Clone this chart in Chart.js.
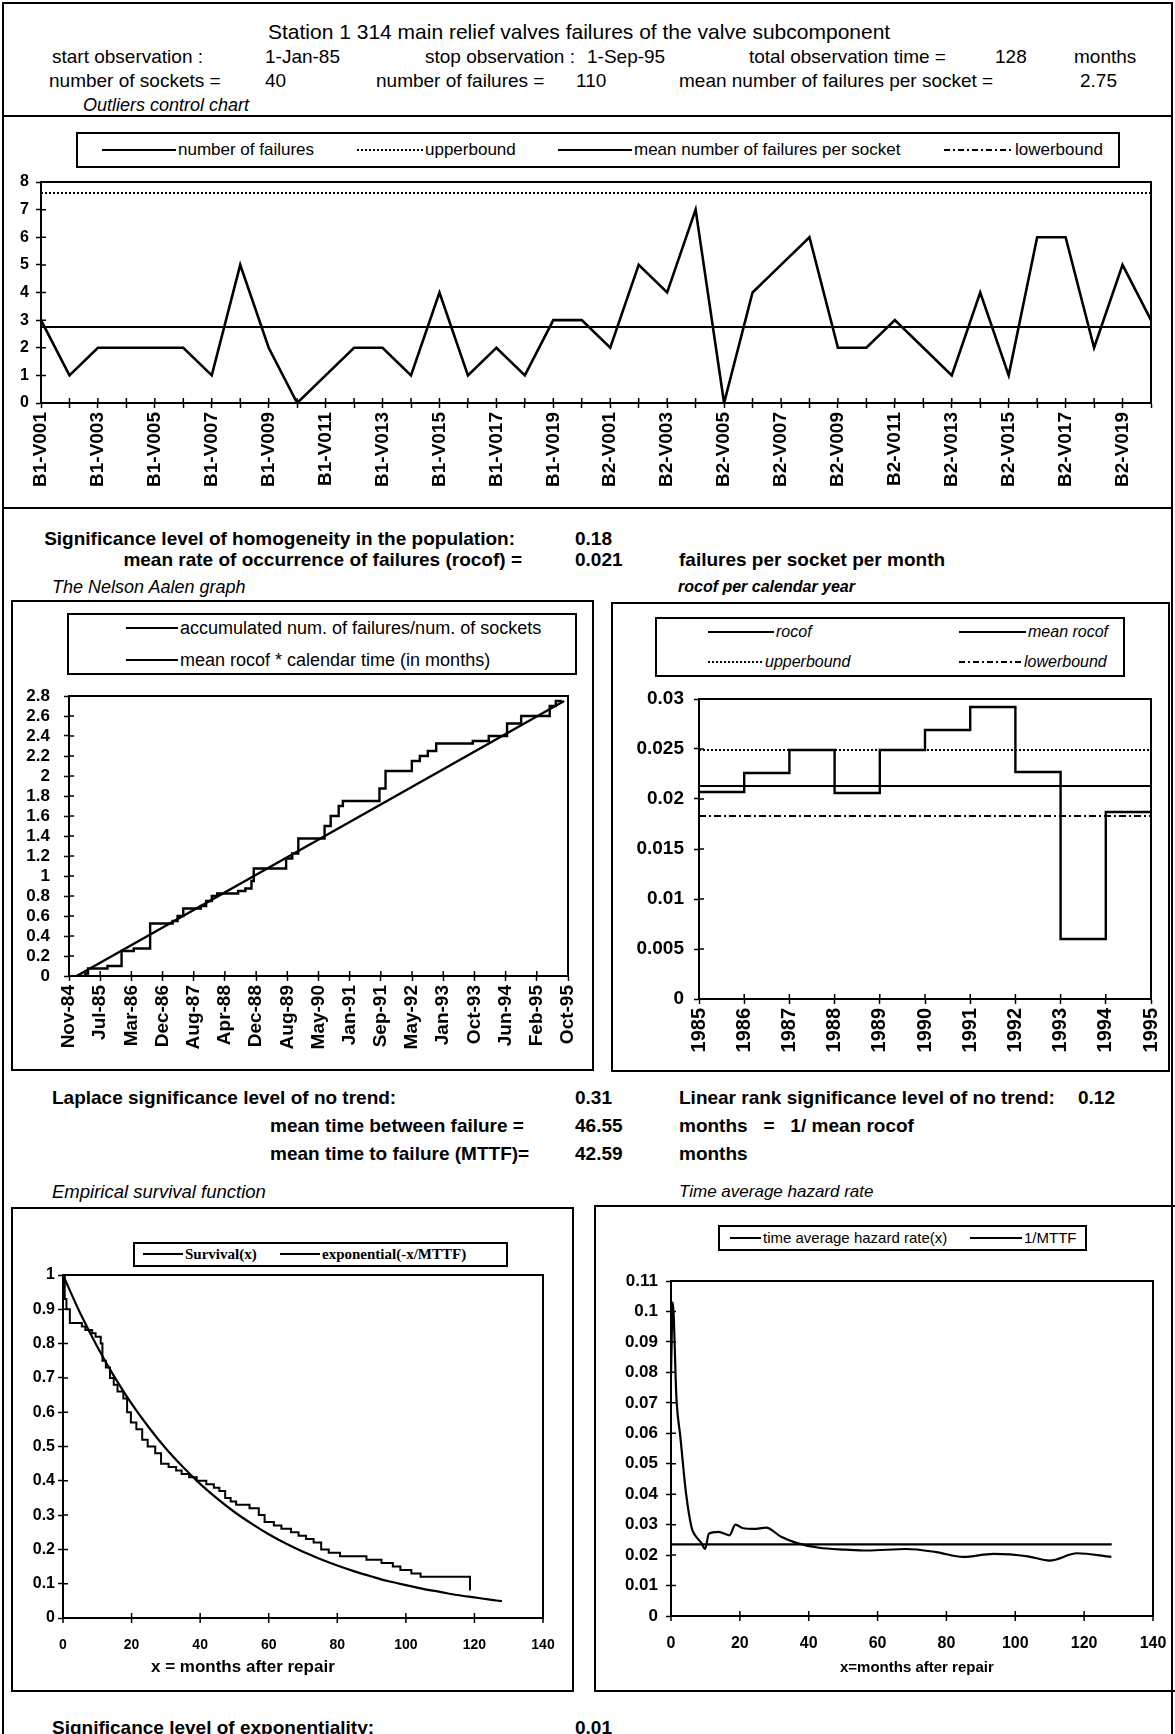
<!DOCTYPE html>
<html>
<head>
<meta charset="utf-8">
<title>Station 1 314 main relief valves</title>
<script src="https://cdn.jsdelivr.net/npm/chart.js@4.4.1/dist/chart.umd.min.js"></script>
<style>
  body { margin: 0; background: #fff; }
  #page { position: relative; width: 1175px; height: 1734px; overflow: hidden; font-family: "Liberation Sans", Arial, sans-serif; color: #000; }
  .t { position: absolute; white-space: nowrap; line-height: 20px; height: 20px; }
  .hd { font-size: 19px; }
  .sec { font-size: 19px; font-weight: bold; }
  .cap { font-style: italic; font-size: 18px; }
  .frame { position: absolute; border: 2px solid #000; box-sizing: border-box; }
  .hl { position: absolute; height: 2px; background: #000; }
  canvas { position: absolute; }
  .lg { position: absolute; border: 2px solid #000; box-sizing: border-box; background: #fff; }
  .li { position: absolute; white-space: nowrap; height: 20px; line-height: 20px; display: flex; align-items: center; }
  .li svg { margin-right: 2px; }
</style>
</head>
<body>
<div id="page">
  <div class="frame" style="left:2px;top:2px;width:1171px;height:1800px"></div>
  <div class="hl" style="left:2px;top:115px;width:1171px"></div>
  <div class="hl" style="left:2px;top:507px;width:1171px"></div>

  <div class="t hd" style="left:268px;top:22px;font-size:21px">Station 1 314 main relief valves failures of the valve subcomponent</div>
  <div class="t hd" style="left:52px;top:47px">start observation :</div>
  <div class="t hd" style="left:265px;top:47px">1-Jan-85</div>
  <div class="t hd" style="left:425px;top:47px">stop observation :</div>
  <div class="t hd" style="left:587px;top:47px">1-Sep-95</div>
  <div class="t hd" style="left:749px;top:47px">total observation time =</div>
  <div class="t hd" style="left:995px;top:47px">128</div>
  <div class="t hd" style="left:1074px;top:47px">months</div>
  <div class="t hd" style="left:49px;top:71px">number of sockets =</div>
  <div class="t hd" style="left:265px;top:71px">40</div>
  <div class="t hd" style="left:376px;top:71px">number of failures =</div>
  <div class="t hd" style="left:576px;top:71px">110</div>
  <div class="t hd" style="left:679px;top:71px">mean number of failures per socket =</div>
  <div class="t hd" style="left:1080px;top:71px">2.75</div>
  <div class="t cap" style="left:83px;top:95px">Outliers control chart</div>

  <div class="lg" style="left:76px;top:132px;width:1044px;height:36px"></div>
  <div class="li" style="left:102px;top:140px;font-size:17px"><svg width="74" height="4"><line x1="0" y1="2" x2="74" y2="2" stroke="#000" stroke-width="2"/></svg><span>number of failures</span></div>
  <div class="li" style="left:357px;top:140px;font-size:17px"><svg width="66" height="4"><line x1="0" y1="2" x2="66" y2="2" stroke="#000" stroke-width="2" stroke-dasharray="2 2"/></svg><span>upperbound</span></div>
  <div class="li" style="left:558px;top:140px;font-size:17px"><svg width="74" height="4"><line x1="0" y1="2" x2="74" y2="2" stroke="#000" stroke-width="2"/></svg><span>mean number of failures per socket</span></div>
  <div class="li" style="left:944px;top:140px;font-size:17px"><svg width="69" height="4"><line x1="0" y1="2" x2="69" y2="2" stroke="#000" stroke-width="2" stroke-dasharray="6 3 2 3"/></svg><span>lowerbound</span></div>
  <canvas id="c1" width="1162" height="332" style="left:6px;top:172px"></canvas>

  <div class="t sec" style="right:660px;top:529px">Significance level of homogeneity in the population:</div>
  <div class="t sec" style="left:575px;top:529px">0.18</div>
  <div class="t sec" style="right:653px;top:550px">mean rate of occurrence of failures (rocof) =</div>
  <div class="t sec" style="left:575px;top:550px">0.021</div>
  <div class="t sec" style="left:679px;top:550px">failures per socket per month</div>
  <div class="t cap" style="left:52px;top:577px">The Nelson Aalen graph</div>
  <div class="t cap" style="left:678px;top:577px;font-size:16px;font-weight:bold">rocof per calendar year</div>

  <div class="frame" style="left:11px;top:600px;width:583px;height:471px"></div>
  <div class="lg" style="left:67px;top:613px;width:510px;height:62px"></div>
  <div class="li" style="left:126px;top:618px;font-size:18px"><svg width="52" height="4"><line x1="0" y1="2" x2="52" y2="2" stroke="#000" stroke-width="2"/></svg><span>accumulated num. of failures/num. of sockets</span></div>
  <div class="li" style="left:126px;top:650px;font-size:18px"><svg width="52" height="4"><line x1="0" y1="2" x2="52" y2="2" stroke="#000" stroke-width="2"/></svg><span>mean rocof * calendar time (in months)</span></div>
  <canvas id="c2" width="576" height="378" style="left:14px;top:686px"></canvas>

  <div class="frame" style="left:611px;top:602px;width:559px;height:470px"></div>
  <div class="lg" style="left:655px;top:617px;width:470px;height:60px"></div>
  <div class="li" style="left:708px;top:622px;font-size:16px;font-style:italic"><svg width="66" height="4"><line x1="0" y1="2" x2="66" y2="2" stroke="#000" stroke-width="2"/></svg><span>rocof</span></div>
  <div class="li" style="left:959px;top:622px;font-size:16px;font-style:italic"><svg width="67" height="4"><line x1="0" y1="2" x2="67" y2="2" stroke="#000" stroke-width="2"/></svg><span>mean rocof</span></div>
  <div class="li" style="left:708px;top:652px;font-size:16px;font-style:italic"><svg width="55" height="4"><line x1="0" y1="2" x2="55" y2="2" stroke="#000" stroke-width="2" stroke-dasharray="2 2"/></svg><span>upperbound</span></div>
  <div class="li" style="left:959px;top:652px;font-size:16px;font-style:italic"><svg width="63" height="4"><line x1="0" y1="2" x2="63" y2="2" stroke="#000" stroke-width="2" stroke-dasharray="6 3 2 3"/></svg><span>lowerbound</span></div>
  <canvas id="c3" width="552" height="380" style="left:614px;top:689px"></canvas>

  <div class="t sec" style="left:52px;top:1088px">Laplace significance level of no trend:</div>
  <div class="t sec" style="left:575px;top:1088px">0.31</div>
  <div class="t sec" style="left:679px;top:1088px">Linear rank significance level of no trend:</div>
  <div class="t sec" style="left:1078px;top:1088px">0.12</div>
  <div class="t sec" style="left:270px;top:1116px">mean time between failure =</div>
  <div class="t sec" style="left:575px;top:1116px">46.55</div>
  <div class="t sec" style="left:679px;top:1116px">months &nbsp; = &nbsp; 1/ mean rocof</div>
  <div class="t sec" style="left:270px;top:1144px">mean time to failure (MTTF)=</div>
  <div class="t sec" style="left:575px;top:1144px">42.59</div>
  <div class="t sec" style="left:679px;top:1144px">months</div>
  <div class="t cap" style="left:52px;top:1182px;font-size:18.5px">Empirical survival function</div>
  <div class="t cap" style="left:679px;top:1182px;font-size:17px">Time average hazard rate</div>

  <div class="frame" style="left:11px;top:1207px;width:563px;height:485px"></div>
  <div class="lg" style="left:133px;top:1242px;width:375px;height:25px"></div>
  <div class="li" style="left:143px;top:1244px;font-size:15px;font-family:'Liberation Serif',serif;font-weight:bold"><svg width="40" height="4"><line x1="0" y1="2" x2="40" y2="2" stroke="#000" stroke-width="2"/></svg><span>Survival(x)</span></div>
  <div class="li" style="left:280px;top:1244px;font-size:15px;font-family:'Liberation Serif',serif;font-weight:bold"><svg width="40" height="4"><line x1="0" y1="2" x2="40" y2="2" stroke="#000" stroke-width="2"/></svg><span>exponential(-x/MTTF)</span></div>
  <canvas id="c4" width="556" height="423" style="left:14px;top:1265px"></canvas>
  <div class="t" style="left:151px;top:1657px;font-size:17px;font-weight:bold">x = months after repair</div>

  <div class="frame" style="left:594px;top:1205px;width:590px;height:487px"></div>
  <div class="lg" style="left:718px;top:1225px;width:369px;height:26px"></div>
  <div class="li" style="left:730px;top:1228px;font-size:15px"><svg width="31" height="4"><line x1="0" y1="2" x2="31" y2="2" stroke="#000" stroke-width="2"/></svg><span>time average hazard rate(x)</span></div>
  <div class="li" style="left:970px;top:1228px;font-size:15px"><svg width="52" height="4"><line x1="0" y1="2" x2="52" y2="2" stroke="#000" stroke-width="2"/></svg><span>1/MTTF</span></div>
  <canvas id="c5" width="572" height="415" style="left:598px;top:1271px"></canvas>
  <div class="t" style="left:840px;top:1657px;font-size:15px;font-weight:bold">x=months after repair</div>

  <div class="t sec" style="left:52px;top:1718px">Significance level of exponentiality:</div>
  <div class="t sec" style="left:575px;top:1718px">0.01</div>
</div>

<script>
// outliers control chart
const sockets = [
  'B1-V001', 'B1-V002', 'B1-V003', 'B1-V004', 'B1-V005', 'B1-V006', 'B1-V007', 'B1-V008', 'B1-V009', 'B1-V010',
  'B1-V011', 'B1-V012', 'B1-V013', 'B1-V014', 'B1-V015', 'B1-V016', 'B1-V017', 'B1-V018', 'B1-V019', 'B1-V020',
  'B2-V001', 'B2-V002', 'B2-V003', 'B2-V004', 'B2-V005', 'B2-V006', 'B2-V007', 'B2-V008', 'B2-V009', 'B2-V010',
  'B2-V011', 'B2-V012', 'B2-V013', 'B2-V014', 'B2-V015', 'B2-V016', 'B2-V017', 'B2-V018', 'B2-V019', 'B2-V020'
];
const failures = [3, 1, 2, 2, 2, 2, 1, 5, 2, 0, 1, 2, 2, 1, 4, 1, 2, 1, 3, 3,
                  2, 5, 4, 7, 0, 4, 5, 6, 2, 2, 3, 2, 1, 4, 1, 6, 6, 2, 5, 3];
const meanFailures = 2.75;
const upperFailures = 7.6;
const lowerFailures = -2.1;

// Nelson Aalen graph (x = months after 1-Jan-85)
const naTicks = ['Nov-84', 'Jul-85', 'Mar-86', 'Dec-86', 'Aug-87', 'Apr-88', 'Dec-88', 'Aug-89', 'May-90',
                 'Jan-91', 'Sep-91', 'May-92', 'Jan-93', 'Oct-93', 'Jun-94', 'Feb-95', 'Oct-95'];
const naMonths = [0, 2.3, 3, 8.1, 11.8, 15.0, 19.3, 25.2, 26.5, 28.0, 32.6, 34.0, 35.5, 36.9, 42.4, 44.3, 45.9,
                  46.5, 55.0, 56.6, 58.2, 65.1, 66.7, 68.8, 69.9, 79.5, 81.1, 88.0, 90.1, 92.2, 94.4, 104.0,
                  108.2, 113.0, 116.7, 124.2, 125.8, 127.4];
const naValues = [0, 0.025, 0.075, 0.1, 0.25, 0.275, 0.525, 0.55, 0.6, 0.675, 0.7, 0.75, 0.8, 0.825, 0.85, 0.875, 0.95,
                  1.075, 1.175, 1.225, 1.375, 1.5, 1.6, 1.7, 1.75, 1.875, 2.05, 2.15, 2.2, 2.25, 2.325, 2.35,
                  2.4, 2.525, 2.6, 2.7, 2.75, 2.75];
const rocofLineMonths = [0, 128];
const rocofLineValues = [0, 2.75];

// rocof per calendar year
const years = ['1985', '1986', '1987', '1988', '1989', '1990', '1991', '1992', '1993', '1994', '1995'];
const rocofValues = [0.0207, 0.0226, 0.0249, 0.0206, 0.0249, 0.0269, 0.0292, 0.0227, 0.0060, 0.0187];
const meanRocof = 0.0213;
const upperRocof = 0.0249;
const lowerRocof = 0.0183;

// empirical survival function
const survX = [0, 0.5, 1, 2, 5.5, 6.5, 8.5, 9.5, 11, 11.5, 12.5, 13.7, 14.8, 15.9, 17.6, 18.7, 19.8, 21.4, 23.1,
               24.7, 26.9, 28.6, 30.8, 33, 34.6, 36.8, 39, 41.8, 44, 45.6, 47.3, 48.9, 50.5, 54.4, 57.1, 58.8,
               61.5, 63.7, 66.5, 68.7, 70.9, 73.1, 75.3, 77.5, 80.8, 88.5, 92.9, 96.2, 98.4, 101.6, 104.3, 118.7];
const survY = [1, 0.93, 0.9, 0.86, 0.85, 0.84, 0.83, 0.82, 0.80, 0.75, 0.73, 0.70, 0.68, 0.66, 0.64, 0.60, 0.57, 0.55,
               0.52, 0.50, 0.48, 0.45, 0.44, 0.43, 0.42, 0.41, 0.40, 0.39, 0.38, 0.37, 0.35, 0.34, 0.33, 0.32, 0.30,
               0.28, 0.27, 0.26, 0.25, 0.24, 0.23, 0.22, 0.20, 0.19, 0.18, 0.17, 0.16, 0.15, 0.14, 0.13, 0.12, 0.08];
const expX = [0, 5, 10, 15, 20, 25, 30, 35, 40, 45, 50, 55, 60, 65, 70, 75, 80, 85, 90, 95, 100, 105, 110, 115, 120, 125, 128];
const expY = [1, 0.889, 0.791, 0.703, 0.625, 0.556, 0.494, 0.44, 0.391, 0.348, 0.309, 0.275, 0.244, 0.217, 0.193,
              0.172, 0.153, 0.136, 0.121, 0.107, 0.096, 0.085, 0.076, 0.067, 0.06, 0.053, 0.049];

// time average hazard rate
const hazX = [0, 0.5, 1.6, 2.7, 4.4, 6, 7, 8.8, 9.9, 11, 13.8, 17, 18.7, 21, 24, 27.6, 32, 36.4, 43, 50.7, 57,
              68.4, 77, 84.9, 93.7, 103.6, 110, 117.9, 127.9];
const hazY = [0.079, 0.103, 0.071, 0.059, 0.040, 0.029, 0.0265, 0.024, 0.022, 0.027, 0.0276, 0.0265, 0.030, 0.0288,
              0.0286, 0.029, 0.026, 0.024, 0.0224, 0.0218, 0.0215, 0.022, 0.021, 0.0194, 0.0204, 0.0196, 0.0182,
              0.0206, 0.0194];
const mttfX = [0, 128];
const mttfY = [0.0235, 0.0235];

const FONT = '"Liberation Sans", Arial, sans-serif';
Chart.defaults.font.family = FONT;
Chart.defaults.color = '#000';
Chart.defaults.animation = false;
Chart.defaults.responsive = false;
Chart.defaults.plugins.legend.display = false;
Chart.defaults.plugins.tooltip.enabled = false;
Chart.defaults.elements.point.radius = 0;

// plot area border + tick marks crossing into the plot, like the old spreadsheet charts
const frameTicks = {
  id: 'frameTicks',
  afterDraw(chart) {
    const { ctx, chartArea: a } = chart;
    const xs = chart.scales.x, ys = chart.scales.y;
    ctx.save();
    ctx.strokeStyle = '#000';
    ctx.lineWidth = 2;
    ctx.strokeRect(a.left, a.top, a.right - a.left, a.bottom - a.top);
    ctx.lineWidth = 1.5;
    ctx.beginPath();
    xs.ticks.forEach((t, i) => {
      const px = xs.getPixelForTick(i);
      ctx.moveTo(px, a.bottom); ctx.lineTo(px, a.bottom - 5);
    });
    ys.ticks.forEach((t, i) => {
      const py = ys.getPixelForTick(i);
      ctx.moveTo(a.left, py); ctx.lineTo(a.left + 5, py);
    });
    ctx.stroke();
    ctx.restore();
  }
};

// horizontal x tick labels of the two lower charts, hung right under the plot area
const bottomLabels = {
  id: 'bottomLabels',
  afterDraw(chart, args, opts) {
    const { ctx, chartArea: a } = chart;
    const xs = chart.scales.x;
    ctx.save();
    ctx.strokeStyle = '#000';
    ctx.lineWidth = 1.5;
    ctx.beginPath();
    xs.ticks.forEach((t, i) => {
      const px = xs.getPixelForTick(i);
      ctx.moveTo(px, a.bottom); ctx.lineTo(px, a.bottom + 5);
    });
    ctx.stroke();
    ctx.fillStyle = '#000';
    ctx.font = 'bold ' + opts.size + 'px ' + FONT;
    ctx.textAlign = 'center';
    ctx.textBaseline = 'middle';
    xs.ticks.forEach((t, i) => {
      ctx.fillText(t.label != null ? t.label : String(t.value), xs.getPixelForTick(i), a.bottom + opts.offset);
    });
    ctx.restore();
  }
};

const border = { display: true, color: '#000', width: 2 };
const grid = { drawOnChartArea: false, drawTicks: true, tickLength: 5, tickColor: '#000', tickWidth: 1.5 };
const pts = (xs, ys) => xs.map((x, i) => ({ x: x, y: ys[i] }));
const flat = (v) => years.map(y => ({ x: +y, y: v }));
// fixed axis sizes so the plot areas land where they are in the scan
const fixX = h => s => { s.height = h; s.paddingLeft = 0; s.paddingRight = 0; };
const fixY = w => s => { s.width = w; s.paddingTop = 0; s.paddingBottom = 0; };
const ln = (label, data, extra) => Object.assign({ label, data, borderColor: '#000', borderWidth: 2.4, fill: false }, extra || {});

new Chart(document.getElementById('c1'), {
  type: 'line',
  data: {
    labels: sockets,
    datasets: [
      ln('number of failures', failures, { borderWidth: 2.6 }),
      ln('upperbound', sockets.map(() => upperFailures), { borderDash: [2, 2], borderWidth: 2 }),
      ln('mean number of failures per socket', sockets.map(() => meanFailures), { borderWidth: 2 }),
      ln('lowerbound', sockets.map(() => lowerFailures), { borderDash: [6, 3, 2, 3], borderWidth: 2 })
    ]
  },
  options: {
    layout: { padding: { top: 10, right: 17, left: 0, bottom: 0 } },
    scales: {
      x: {
        type: 'category', offset: false, border, grid,
        ticks: { autoSkip: false, maxRotation: 90, minRotation: 90, padding: 4,
                 font: { size: 19, weight: 'bold' },
                 callback: (v, i) => (i % 2 === 0 ? sockets[i] : '') },
        afterFit: fixX(101)
      },
      y: {
        min: 0, max: 8, border, grid,
        ticks: { stepSize: 1, padding: 7, autoSkip: false, font: { size: 16, weight: 'bold' } },
        afterFit: fixY(35)
      }
    }
  },
  plugins: [frameTicks]
});

new Chart(document.getElementById('c2'), {
  type: 'line',
  data: {
    datasets: [
      ln('accumulated num. of failures/num. of sockets', pts(naMonths, naValues), { stepped: true }),
      ln('mean rocof * calendar time (in months)', pts(rocofLineMonths, rocofLineValues))
    ]
  },
  options: {
    layout: { padding: { top: 10, right: 22, left: 0, bottom: 0 } },
    scales: {
      x: {
        type: 'linear', min: -2, max: 129, border, grid,
        afterBuildTicks: s => { s.ticks = naTicks.map((l, i) => ({ value: -2 + i * 131 / 16 })); },
        ticks: { autoSkip: false, maxRotation: 90, minRotation: 90, padding: 4,
                 font: { size: 19, weight: 'bold' }, callback: (v, i) => naTicks[i] },
        afterFit: fixX(88)
      },
      y: {
        min: 0, max: 2.8, border, grid,
        ticks: { stepSize: 0.2, padding: 14, autoSkip: false, font: { size: 17, weight: 'bold' },
                 callback: v => String(+v.toFixed(1)) },
        afterFit: fixY(55)
      }
    }
  },
  plugins: [frameTicks]
});

const rocofPts = years.map((y, i) => ({ x: +y, y: rocofValues[Math.min(i, rocofValues.length - 1)] }));
new Chart(document.getElementById('c3'), {
  type: 'line',
  data: {
    datasets: [
      ln('rocof', rocofPts, { stepped: true }),
      ln('mean rocof', flat(meanRocof), { borderWidth: 2 }),
      ln('upperbound', flat(upperRocof), { borderDash: [2, 2], borderWidth: 2 }),
      ln('lowerbound', flat(lowerRocof), { borderDash: [7, 3, 2, 3], borderWidth: 2 })
    ]
  },
  options: {
    layout: { padding: { top: 10, right: 15, left: 0, bottom: 0 } },
    scales: {
      x: {
        type: 'linear', min: 1985, max: 1995, border, grid,
        ticks: { stepSize: 1, autoSkip: false, maxRotation: 90, minRotation: 90, padding: 4,
                 font: { size: 20, weight: 'bold' }, callback: (v, i) => years[i] },
        afterFit: fixX(70)
      },
      y: {
        min: 0, max: 0.03, border, grid,
        ticks: { stepSize: 0.005, padding: 10, autoSkip: false, font: { size: 19, weight: 'bold' },
                 callback: v => String(+v.toFixed(3)) },
        afterFit: fixY(85)
      }
    }
  },
  plugins: [frameTicks]
});

const plainX = { display: false };
new Chart(document.getElementById('c4'), {
  type: 'line',
  data: {
    datasets: [
      ln('Survival(x)', pts(survX, survY), { stepped: true, borderWidth: 2 }),
      ln('exponential(-x/MTTF)', pts(expX, expY), { cubicInterpolationMode: 'monotone', borderWidth: 2.2 })
    ]
  },
  options: {
    layout: { padding: { top: 10, right: 27, left: 0, bottom: 0 } },
    plugins: { bottomLabels: { size: 14, offset: 27 } },
    scales: {
      x: {
        type: 'linear', min: 0, max: 140, border: plainX, grid: { display: false },
        ticks: { stepSize: 20, display: false },
        afterFit: fixX(70)
      },
      y: {
        min: 0, max: 1, border, grid,
        ticks: { stepSize: 0.1, padding: 3, autoSkip: false, font: { size: 16, weight: 'bold' },
                 callback: v => String(+v.toFixed(1)) },
        afterFit: fixY(49)
      }
    }
  },
  plugins: [frameTicks, bottomLabels]
});

new Chart(document.getElementById('c5'), {
  type: 'line',
  data: {
    datasets: [
      ln('time average hazard rate(x)', pts(hazX, hazY), { cubicInterpolationMode: 'monotone', borderWidth: 2.2 }),
      ln('1/MTTF', pts(mttfX, mttfY), { borderWidth: 2.2 })
    ]
  },
  options: {
    layout: { padding: { top: 10, right: 17, left: 0, bottom: 0 } },
    plugins: { bottomLabels: { size: 16, offset: 28 } },
    scales: {
      x: {
        type: 'linear', min: 0, max: 140, border: plainX, grid: { display: false },
        ticks: { stepSize: 20, display: false },
        afterFit: fixX(70)
      },
      y: {
        min: 0, max: 0.11, border, grid,
        ticks: { stepSize: 0.01, padding: 8, autoSkip: false, font: { size: 17, weight: 'bold' },
                 callback: v => String(+v.toFixed(2)) },
        afterFit: fixY(73)
      }
    }
  },
  plugins: [frameTicks, bottomLabels]
});
</script>
</body>
</html>
